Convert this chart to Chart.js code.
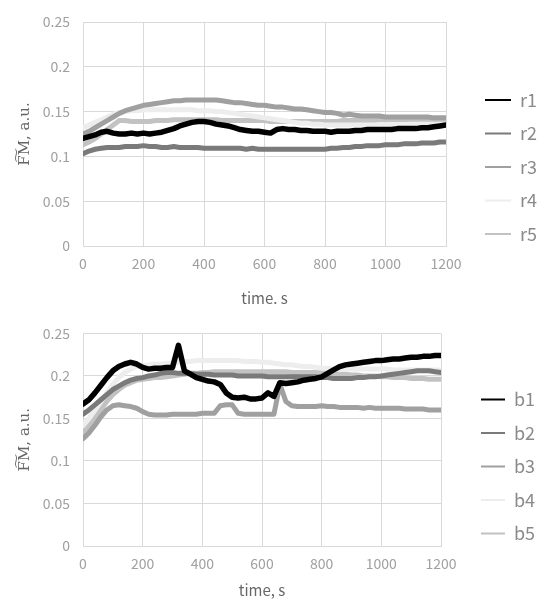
<!DOCTYPE html>
<html>
<head>
<meta charset="utf-8">
<script src="https://cdn.jsdelivr.net/npm/chart.js@4.4.1/dist/chart.umd.min.js"></script>
<style>
  html, body { margin: 0; padding: 0; background: #fff; }
  canvas { display: block; }
</style>
</head>
<body>
<canvas id="topChart" width="537" height="312"></canvas>
<canvas id="bottomChart" width="537" height="295"></canvas>
<script>
// time axis, s
const times = [
    0, 20, 40, 60, 80, 100, 120, 140, 160, 180,
    200, 220, 240, 260, 280, 300, 320, 340, 360, 380,
    400, 420, 440, 460, 480, 500, 520, 540, 560, 580,
    600, 620, 640, 660, 680, 700, 720, 740, 760, 780,
    800, 820, 840, 860, 880, 900, 920, 940, 960, 980,
    1000, 1020, 1040, 1060, 1080, 1100, 1120, 1140, 1160, 1180,
    1200
];

const topLabels = ['r1', 'r2', 'r3', 'r4', 'r5'];
const bottomLabels = ['b1', 'b2', 'b3', 'b4', 'b5'];
const yTicks = [0, 0.05, 0.1, 0.15, 0.2, 0.25];
const xTicks = [0, 200, 400, 600, 800, 1000, 1200];

const r1 = [
    0.120, 0.122, 0.124, 0.127, 0.128, 0.126, 0.125, 0.125, 0.126, 0.125,
    0.126, 0.125, 0.126, 0.127, 0.129, 0.131, 0.134, 0.136, 0.138, 0.139,
    0.139, 0.138, 0.136, 0.135, 0.134, 0.132, 0.130, 0.129, 0.128, 0.128,
    0.127, 0.126, 0.130, 0.131, 0.130, 0.130, 0.129, 0.129, 0.128, 0.128,
    0.128, 0.127, 0.128, 0.128, 0.128, 0.129, 0.129, 0.130, 0.130, 0.130,
    0.130, 0.130, 0.131, 0.131, 0.131, 0.131, 0.132, 0.132, 0.133, 0.134,
    0.135
];
const r2 = [
    0.103, 0.106, 0.108, 0.109, 0.110, 0.110, 0.110, 0.111, 0.111, 0.111,
    0.112, 0.111, 0.111, 0.110, 0.110, 0.111, 0.110, 0.110, 0.110, 0.110,
    0.109, 0.109, 0.109, 0.109, 0.109, 0.109, 0.109, 0.108, 0.109, 0.108,
    0.108, 0.108, 0.108, 0.108, 0.108, 0.108, 0.108, 0.108, 0.108, 0.108,
    0.108, 0.109, 0.109, 0.110, 0.110, 0.111, 0.111, 0.112, 0.112, 0.112,
    0.113, 0.113, 0.113, 0.114, 0.114, 0.114, 0.115, 0.115, 0.115, 0.116,
    0.116
];
const r3 = [
    0.125, 0.128, 0.132, 0.136, 0.140, 0.144, 0.148, 0.151, 0.153, 0.155,
    0.157, 0.158, 0.159, 0.160, 0.161, 0.162, 0.162, 0.163, 0.163, 0.163,
    0.163, 0.163, 0.163, 0.162, 0.161, 0.160, 0.160, 0.159, 0.158, 0.157,
    0.157, 0.156, 0.155, 0.155, 0.154, 0.153, 0.153, 0.152, 0.151, 0.150,
    0.149, 0.149, 0.148, 0.146, 0.147, 0.146, 0.145, 0.145, 0.145, 0.145,
    0.144, 0.144, 0.144, 0.144, 0.144, 0.144, 0.144, 0.144, 0.143, 0.143,
    0.143
];
const r4 = [
    0.132, 0.135, 0.138, 0.141, 0.144, 0.147, 0.149, 0.150, 0.151, 0.151,
    0.152, 0.152, 0.152, 0.152, 0.152, 0.152, 0.152, 0.152, 0.152, 0.151,
    0.151, 0.151, 0.150, 0.150, 0.149, 0.148, 0.147, 0.146, 0.145, 0.144,
    0.143, 0.142, 0.141, 0.140, 0.139, 0.138, 0.137, 0.137, 0.136, 0.136,
    0.135, 0.135, 0.135, 0.135, 0.135, 0.135, 0.135, 0.135, 0.135, 0.135,
    0.135, 0.135, 0.135, 0.135, 0.136, 0.136, 0.136, 0.136, 0.136, 0.136,
    0.136
];
const r5 = [
    0.113, 0.116, 0.120, 0.125, 0.130, 0.135, 0.140, 0.140, 0.139, 0.139,
    0.139, 0.139, 0.140, 0.140, 0.140, 0.141, 0.141, 0.141, 0.141, 0.141,
    0.141, 0.141, 0.141, 0.140, 0.140, 0.140, 0.140, 0.140, 0.140, 0.140,
    0.140, 0.139, 0.139, 0.139, 0.139, 0.139, 0.139, 0.139, 0.139, 0.139,
    0.139, 0.139, 0.139, 0.140, 0.140, 0.140, 0.140, 0.140, 0.140, 0.141,
    0.141, 0.141, 0.141, 0.141, 0.141, 0.141, 0.141, 0.141, 0.141, 0.141,
    0.141
];

const b1 = [
    0.167, 0.172, 0.180, 0.189, 0.198, 0.206, 0.211, 0.214, 0.216, 0.214,
    0.210, 0.208, 0.209, 0.209, 0.210, 0.210, 0.236, 0.206, 0.202, 0.198,
    0.196, 0.194, 0.193, 0.190, 0.180, 0.175, 0.174, 0.175, 0.173, 0.173,
    0.174, 0.180, 0.176, 0.192, 0.191, 0.192, 0.193, 0.195, 0.196, 0.197,
    0.199, 0.203, 0.207, 0.211, 0.213, 0.214, 0.215, 0.216, 0.217, 0.218,
    0.218, 0.219, 0.220, 0.220, 0.221, 0.222, 0.222, 0.223, 0.223, 0.224,
    0.224
];
const b2 = [
    0.155, 0.160, 0.166, 0.172, 0.178, 0.184, 0.188, 0.192, 0.195, 0.197,
    0.198, 0.200, 0.201, 0.203, 0.204, 0.204, 0.203, 0.203, 0.203, 0.202,
    0.202, 0.202, 0.201, 0.201, 0.201, 0.201, 0.200, 0.200, 0.200, 0.200,
    0.200, 0.199, 0.199, 0.199, 0.199, 0.199, 0.199, 0.199, 0.199, 0.199,
    0.198, 0.198, 0.197, 0.197, 0.197, 0.197, 0.198, 0.198, 0.199, 0.199,
    0.200, 0.201, 0.202, 0.203, 0.204, 0.205, 0.206, 0.206, 0.206, 0.205,
    0.204
];
const b3 = [
    0.126, 0.133, 0.142, 0.152, 0.160, 0.165, 0.166, 0.165, 0.164, 0.162,
    0.158, 0.155, 0.154, 0.154, 0.154, 0.155, 0.155, 0.155, 0.155, 0.155,
    0.156, 0.156, 0.156, 0.165, 0.166, 0.166, 0.156, 0.155, 0.155, 0.155,
    0.155, 0.155, 0.155, 0.190, 0.170, 0.165, 0.164, 0.164, 0.164, 0.164,
    0.165, 0.164, 0.164, 0.163, 0.163, 0.163, 0.163, 0.162, 0.163, 0.162,
    0.162, 0.162, 0.162, 0.162, 0.161, 0.161, 0.161, 0.161, 0.160, 0.160,
    0.160
];
const b4 = [
    0.142, 0.150, 0.160, 0.170, 0.180, 0.190, 0.198, 0.204, 0.208, 0.211,
    0.212, 0.213, 0.214, 0.214, 0.215, 0.215, 0.216, 0.217, 0.217, 0.218,
    0.218, 0.218, 0.218, 0.218, 0.218, 0.218, 0.218, 0.217, 0.217, 0.217,
    0.216, 0.216, 0.215, 0.214, 0.213, 0.213, 0.212, 0.211, 0.211, 0.210,
    0.209, 0.209, 0.208, 0.208, 0.208, 0.208, 0.208, 0.208, 0.208, 0.208,
    0.208, 0.208, 0.207, 0.207, 0.207, 0.207, 0.207, 0.207, 0.207, 0.207,
    0.207
];
const b5 = [
    0.133, 0.141, 0.150, 0.160, 0.170, 0.178, 0.184, 0.189, 0.192, 0.195,
    0.196, 0.197, 0.198, 0.198, 0.199, 0.200, 0.201, 0.202, 0.203, 0.203,
    0.204, 0.204, 0.205, 0.205, 0.205, 0.205, 0.205, 0.205, 0.205, 0.205,
    0.205, 0.205, 0.205, 0.205, 0.205, 0.204, 0.204, 0.204, 0.204, 0.204,
    0.204, 0.203, 0.203, 0.202, 0.202, 0.201, 0.201, 0.200, 0.200, 0.200,
    0.199, 0.199, 0.198, 0.198, 0.198, 0.197, 0.197, 0.197, 0.196, 0.196,
    0.196
];

const lineColors = ['#000000', '#7a7a7a', '#a0a0a0', '#ededed', '#c2c2c2'];
const lineWidths = [5.5, 5, 5, 5, 5];

const fontFamily = '"Noto Sans CJK JP", "Noto Sans", sans-serif';
const gridColor = '#d9d9d9';
const tickColor = '#a0a0a0';
const titleColor = '#666666';

function makeDatasets(labels, seriesList) {
    return seriesList.map((values, i) => ({
        label: labels[i],
        data: values.map((v, j) => ({ x: times[j], y: v })),
        borderColor: lineColors[i],
        backgroundColor: lineColors[i],
        borderWidth: lineWidths[i],
        pointRadius: 0,
        tension: 0,
        borderCapStyle: 'round',
        borderJoinStyle: 'round',
        fill: false,
    }));
}

function makeChart(canvasId, labels, seriesList, layout) {
    const ctx = document.getElementById(canvasId).getContext('2d');
    const legendLabels = {
        color: '#8a8a8a',
        font: { family: fontFamily, size: 18 },
        boxWidth: layout.boxWidth,
        boxHeight: 2,
        padding: 15.5,
        generateLabels: function (chart) {
            const items = Chart.defaults.plugins.legend.labels.generateLabels(chart);
            items.forEach(item => { item.lineWidth = 0; });
            return items;
        }
    };

    return new Chart(ctx, {
        type: 'line',
        data: { datasets: makeDatasets(labels, seriesList) },
        options: {
            responsive: false,
            animation: false,
            layout: { padding: { top: layout.top, left: 0, right: 0, bottom: 0 } },
            plugins: {
                tooltip: { enabled: false },
                legend: {
                    position: 'right',
                    align: 'center',
                    maxWidth: layout.legendWidth,
                    labels: legendLabels,
                    title: {
                        display: layout.legendShift > 0,
                        text: '',
                        font: { size: layout.legendShift || 1, lineHeight: 1 },
                    },
                },
            },
            scales: {
                x: {
                    type: 'linear',
                    min: 0,
                    max: 1200,
                    afterBuildTicks: function (scale) {
                        scale.ticks = xTicks.map(v => ({ value: v }));
                    },
                    grid: { color: gridColor, drawTicks: false },
                    border: { color: gridColor },
                    ticks: {
                        color: tickColor,
                        font: { family: fontFamily, size: 14 },
                        padding: 9,
                        maxRotation: 0,
                        callback: v => String(v),
                    },
                    title: {
                        display: true,
                        text: layout.xTitle,
                        color: titleColor,
                        font: { family: fontFamily, size: 15 },
                        padding: { top: 0, bottom: layout.xTitlePad },
                    },
                    afterFit: function (scale) {
                        scale.height = layout.xHeight;
                    },
                },
                y: {
                    min: 0,
                    max: 0.25,
                    afterBuildTicks: function (scale) {
                        scale.ticks = yTicks.map(v => ({ value: v }));
                    },
                    grid: { color: gridColor, drawTicks: false },
                    border: { color: gridColor },
                    ticks: {
                        color: tickColor,
                        font: { family: fontFamily, size: 14 },
                        padding: 13,
                        callback: v => String(v),
                    },
                    title: {
                        display: true,
                        text: 'F\u0360M, a.u.',
                        color: titleColor,
                        font: { family: '"DejaVu Serif", serif', size: 15 },
                        padding: { top: 16, bottom: 0 },
                    },
                    afterFit: function (scale) {
                        scale.width = 83;
                    },
                },
                gap: {
                    axis: 'y',
                    position: 'right',
                    display: true,
                    grid: { display: false },
                    border: { display: false },
                    ticks: { display: false },
                    afterFit: function (scale) {
                        scale.width = layout.rightGap;
                    },
                },
            },
        },
    });
}

document.addEventListener('DOMContentLoaded', () => {
    makeChart('topChart', topLabels, [r1, r2, r3, r4, r5], {
        top: 22, xHeight: 66, xTitle: 'time. s', xTitlePad: 5,
        rightGap: 23.5, legendWidth: 67.5, boxWidth: 26, legendShift: 0
    });
    makeChart('bottomChart', bottomLabels, [b1, b2, b3, b4, b5], {
        top: 10, xHeight: 61, xTitle: 'time, s', xTitlePad: 8,
        rightGap: 24.5, legendWidth: 71.5, boxWidth: 24, legendShift: 4
    });
});
</script>
</body>
</html>
